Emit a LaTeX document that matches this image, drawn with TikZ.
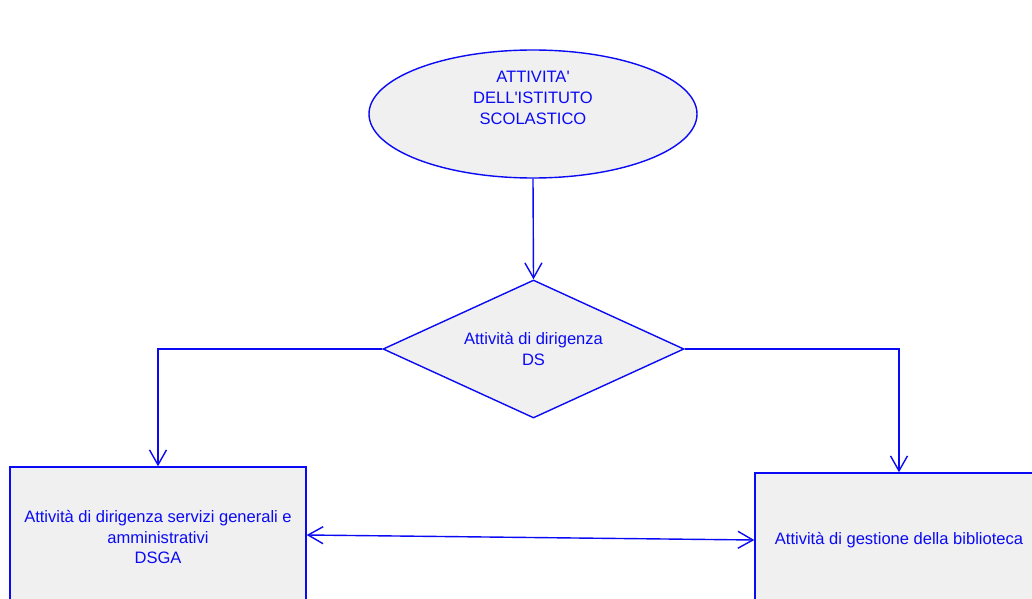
\documentclass[tikz,border=0pt]{standalone}
\usepackage{fontspec}
\setmainfont{Liberation Sans}[Ligatures=TeXOff]
\usetikzlibrary{shapes.geometric,arrows.meta}
\definecolor{boxgray}{RGB}{240,240,240}
\definecolor{flowblue}{RGB}{10,10,245}

\begin{document}
\begin{tikzpicture}[x=1bp,y=-1bp,>={Straight Barb[length=15bp,width=17bp]},
  blk/.style={draw=flowblue,fill=boxgray,line width=1.4bp},
  txt/.style={text=flowblue,align=center,font=\fontsize{16.6}{20.8}\selectfont},
  conn/.style={flowblue,line width=1.4bp}]
\clip (0,0) rectangle (1032,599);
\node[blk,ellipse,minimum width=328bp,minimum height=128bp] (ist) at (533,114) {};
\node[txt] (istlbl) at (533,98) {ATTIVITA'\\DELL'ISTITUTO\\SCOLASTICO};
\node[blk,txt,diamond,aspect=2.18,inner sep=0pt,minimum width=301bp,minimum height=138bp] (ds) at (533.5,349) {Attività di dirigenza\\DS};
\node[blk,txt,rectangle,minimum width=296bp,minimum height=140bp] (dsga) at (158,537) {Attività di dirigenza servizi generali e\\amministrativi\\DSGA};
\node[blk,txt,rectangle,minimum width=288bp,minimum height=134bp] (bib) at (899,540) {Attività di gestione della biblioteca};

\draw[conn,->] (ist.south) -- (ds.north);
\draw[conn,->] (ds.west) -| (dsga.north);
\draw[conn,->] (ds.east) -| (bib.north);
\draw[conn,<->] ([yshift=2bp]dsga.east) -- (bib.west);
\end{tikzpicture}
\end{document}
